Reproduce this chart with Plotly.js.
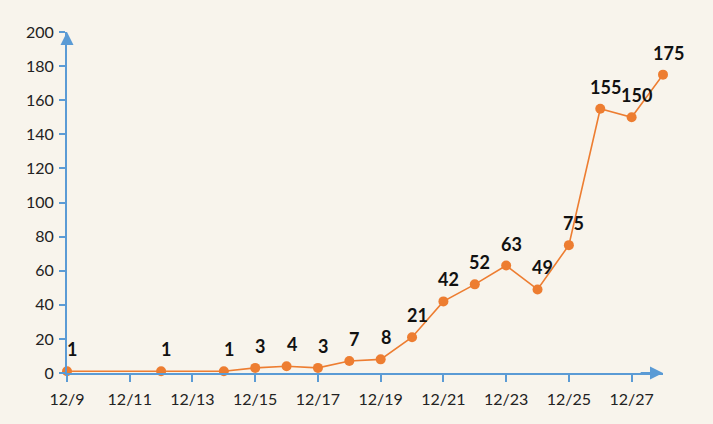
<!DOCTYPE html>
<html>
<head>
<meta charset="utf-8">
<script src="https://cdn.plot.ly/plotly-3.0.1.min.js"></script>
<style>
  html, body { margin: 0; padding: 0; background: #F8F4EC; }
  #chart { width: 713px; height: 424px; }
</style>
</head>
<body>
<div id="chart"></div>
<script>
// Daily counts in December (day of month -> count)
const days = [9, 12, 14, 15, 16, 17, 18, 19, 20, 21, 22, 23, 24, 25, 26, 27, 28];
const counts = [1, 1, 1, 3, 4, 3, 7, 8, 21, 42, 52, 63, 49, 75, 155, 150, 175];
const tickDays = [9, 11, 13, 15, 17, 19, 21, 23, 25, 27];
const tickLabels = ['12/9', '12/11', '12/13', '12/15', '12/17', '12/19', '12/21', '12/23', '12/25', '12/27'];

const orange = '#ED7D31';
const blue = '#5B9BD5';
const font = 'Lato, "Open Sans", sans-serif';

const trace = {
  x: days,
  y: counts,
  type: 'scatter',
  mode: 'lines+markers',
  cliponaxis: false,
  line: { color: orange, width: 1.6 },
  marker: { color: orange, size: 10 },
  hoverinfo: 'x+y'
};

// value labels above each point
const valueLabels = days.map((d, i) => ({
  x: d, y: counts[i], xref: 'x', yref: 'y',
  text: String(counts[i]),
  showarrow: false,
  xshift: 5, yshift: 22,
  font: { family: font, size: 18, color: '#111', weight: 'bold' }
}));

// arrow heads on both axes
const axisArrows = [
  { xref: 'paper', yref: 'paper', axref: 'paper', ayref: 'paper',
    x: 1.0, y: 0, ax: 0.96, ay: 0, text: '', showarrow: true,
    arrowhead: 2, arrowsize: 1.3, arrowwidth: 2, arrowcolor: blue },
  { xref: 'paper', yref: 'paper', axref: 'paper', ayref: 'paper',
    x: 0, y: 1.0, ax: 0, ay: 0.96, text: '', showarrow: true,
    arrowhead: 2, arrowsize: 1.3, arrowwidth: 2, arrowcolor: blue }
];

const layout = {
  width: 713, height: 424,
  paper_bgcolor: '#F8F4EC',
  plot_bgcolor: '#F8F4EC',
  margin: { l: 67, r: 50, t: 32, b: 51 },
  showlegend: false,
  font: { family: font, size: 16, color: '#222' },
  xaxis: {
    range: [9, 28],
    tickmode: 'array', tickvals: tickDays, ticktext: tickLabels,
    showgrid: false, zeroline: false,
    showline: true, linecolor: blue, linewidth: 2,
    ticks: 'outside', ticklen: 7, tickwidth: 2, tickcolor: blue,
    ticklabelstandoff: 4,
    tickfont: { family: font, size: 16, color: '#222' }
  },
  yaxis: {
    range: [0, 200],
    tickvals: [0, 20, 40, 60, 80, 100, 120, 140, 160, 180, 200],
    showgrid: false, zeroline: false,
    showline: true, linecolor: blue, linewidth: 2,
    ticks: 'outside', ticklen: 6, tickwidth: 2, tickcolor: blue,
    ticklabelstandoff: 2,
    tickfont: { family: font, size: 16, color: '#222' }
  },
  annotations: valueLabels.concat(axisArrows)
};

Plotly.newPlot('chart', [trace], layout, { displayModeBar: false, staticPlot: true });
</script>
</body>
</html>
